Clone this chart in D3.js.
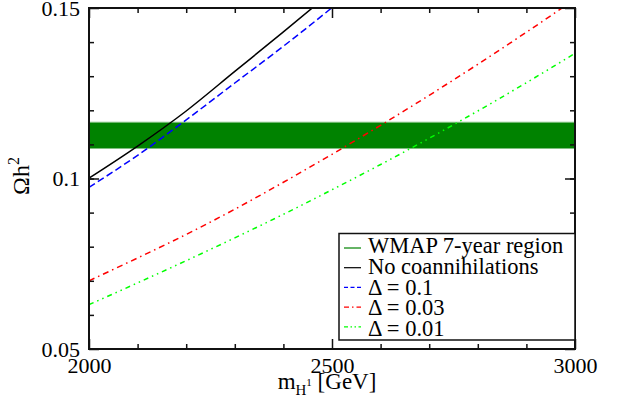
<!DOCTYPE html>
<html>
<head>
<meta charset="utf-8">
<script src="https://cdn.jsdelivr.net/npm/d3@7"></script>
<style>
  body { margin: 0; background: #fff; }
  text { font-family: "Liberation Serif", "Times New Roman", serif; }
</style>
</head>
<body>
<script>
// data
var masses = [2000, 2100, 2200, 2300, 2400, 2500, 2600, 2700, 2800, 2900, 3000];
var noCoann = [0.1001, 0.1095, 0.1198, 0.1314, 0.1430, 0.1548];
var delta01 = [0.0974, 0.1068, 0.1172, 0.1280, 0.1388, 0.1501, 0.1620];
var delta003 = [0.0700, 0.0767, 0.0836, 0.0910, 0.0989, 0.1071, 0.1156, 0.1244, 0.1335, 0.1429, 0.1526];
var delta001 = [0.0630, 0.0694, 0.0759, 0.0826, 0.0895, 0.0967, 0.1041, 0.1118, 0.1198, 0.1281, 0.1367];
var wmapBand = [0.1088, 0.1165];
var xMajor = [2000, 2500, 3000];
var yMajor = [0.05, 0.1, 0.15];
var yMajorLabels = ["0.05", "0.1", "0.15"];
var legendLabels = ["WMAP 7-year region", "No coannihilations", "\u0394 = 0.1", "\u0394 = 0.03", "\u0394 = 0.01"];

var width = 617, height = 410;
// plot box ("top" is taken by window, so pl/pr/pt/pb)
var pl = 89, pr = 575, pt = 8, pb = 349;

var svg = d3.select("body").append("svg")
  .attr("width", width)
  .attr("height", height);

svg.append("rect").attr("width", width).attr("height", height).attr("fill", "#fff");

var x = d3.scaleLinear().domain([2000, 3000]).range([pl, pr]);
var y = d3.scaleLinear().domain([0.05, 0.15]).range([pb, pt]);

svg.append("clipPath").attr("id", "plot")
  .append("rect")
  .attr("x", pl).attr("y", pt)
  .attr("width", pr - pl).attr("height", pb - pt);

// WMAP band
svg.append("rect")
  .attr("x", pl)
  .attr("y", y(wmapBand[1]))
  .attr("width", pr - pl)
  .attr("height", y(wmapBand[0]) - y(wmapBand[1]))
  .attr("fill", "#008200")
  .attr("stroke", "#80c080")
  .attr("stroke-width", 1);

// curves
var series = [
  {vals: noCoann, color: "#000", dash: null},
  {vals: delta01, color: "#0000ff", dash: "7,3.5"},
  {vals: delta003, color: "#ff0000", dash: "6,4,1.5,4"},
  {vals: delta001, color: "#00ff00", dash: "5,4,1.5,4,1.5,4"}
];

var line = d3.line()
  .x(function(d) { return x(d[0]); })
  .y(function(d) { return y(d[1]); })
  .curve(d3.curveMonotoneX);

svg.append("g").attr("clip-path", "url(#plot)")
  .selectAll("path")
  .data(series)
  .enter()
  .append("path")
  .attr("d", function(s) {
    return line(s.vals.map(function(v, i) { return [masses[i], v]; }));
  })
  .attr("fill", "none")
  .attr("stroke", function(s) { return s.color; })
  .attr("stroke-width", 1.5)
  .attr("stroke-dasharray", function(s) { return s.dash; });

// axes: minor ticks every 100 GeV / 0.01, major with labels
var xMinor = d3.range(2100, 3000, 100).filter(function(v) { return xMajor.indexOf(v) < 0; });
var yMinor = d3.range(0.06, 0.145, 0.01);

function styleAxis(g) {
  g.selectAll("path").remove();
  g.selectAll("line").attr("stroke", "#111").attr("stroke-width", 1.5);
  g.selectAll("text")
    .attr("fill", "#000")
    .style("font-family", "'Liberation Serif', serif")
    .style("font-size", "22px");
}

svg.append("g").attr("transform", "translate(0," + pb + ")")
  .call(d3.axisBottom(x).tickValues(xMinor).tickSize(-5).tickFormat(""))
  .call(styleAxis);
svg.append("g").attr("transform", "translate(0," + pb + ")")
  .call(d3.axisBottom(x).tickValues(xMajor).tickSize(-10).tickPadding(8).tickFormat(d3.format("d")))
  .call(styleAxis);
svg.append("g").attr("transform", "translate(0," + pt + ")")
  .call(d3.axisTop(x).tickValues(xMinor).tickSize(-5).tickFormat(""))
  .call(styleAxis);
svg.append("g").attr("transform", "translate(0," + pt + ")")
  .call(d3.axisTop(x).tickValues(xMajor).tickSize(-10).tickFormat(""))
  .call(styleAxis);

svg.append("g").attr("transform", "translate(" + pl + ",0)")
  .call(d3.axisLeft(y).tickValues(yMinor).tickSize(-5).tickFormat(""))
  .call(styleAxis);
svg.append("g").attr("transform", "translate(" + pl + ",0)")
  .call(d3.axisLeft(y).tickValues(yMajor).tickSize(-10).tickPadding(9)
    .tickFormat(function(d, i) { return yMajorLabels[i]; }))
  .call(styleAxis);
svg.append("g").attr("transform", "translate(" + pr + ",0)")
  .call(d3.axisRight(y).tickValues(yMinor).tickSize(-5).tickFormat(""))
  .call(styleAxis);
svg.append("g").attr("transform", "translate(" + pr + ",0)")
  .call(d3.axisRight(y).tickValues(yMajor).tickSize(-10).tickFormat(""))
  .call(styleAxis);

// frame
svg.append("rect")
  .attr("x", pl).attr("y", pt)
  .attr("width", pr - pl).attr("height", pb - pt)
  .attr("fill", "none")
  .attr("stroke", "#111")
  .attr("stroke-width", 2);

// axis titles
var xt = svg.append("text")
  .attr("x", (pl + pr) / 2 - 5)
  .attr("y", 389)
  .attr("text-anchor", "middle")
  .style("font-size", "23px");
xt.append("tspan").text("m");
xt.append("tspan").attr("dy", 6).style("font-size", "15px").text("H");
xt.append("tspan").attr("dy", -9).style("font-size", "11px").text("1");
xt.append("tspan").attr("dy", 3).text(" [GeV]");

var yt = svg.append("text")
  .attr("transform", "translate(29,176) rotate(-90)")
  .attr("text-anchor", "middle")
  .style("font-size", "24px");
yt.append("tspan").text("\u03a9h");
yt.append("tspan").attr("dy", -10).style("font-size", "16px").text("2");

// legend
var legendItems = [
  {color: "#008200", dash: null},
  {color: "#000", dash: null},
  {color: "#0000ff", dash: "4,2.5"},
  {color: "#ff0000", dash: "5,3,1.5,3"},
  {color: "#00ff00", dash: "4,2.5,1.5,2.5,1.5,2.5"}
];

var legend = svg.append("g");
legend.append("rect")
  .attr("x", 339).attr("y", 233.5)
  .attr("width", pr - 339).attr("height", 106.5)
  .attr("fill", "#fff")
  .attr("stroke", "#111")
  .attr("stroke-width", 1.5);

var rows = legend.selectAll("g.row")
  .data(legendLabels)
  .enter()
  .append("g")
  .attr("class", "row");

rows.append("line")
  .attr("x1", 344).attr("x2", 361)
  .attr("y1", function(d, i) { return 248 + i * 19.7; })
  .attr("y2", function(d, i) { return 248 + i * 19.7; })
  .attr("stroke", function(d, i) { return legendItems[i].color; })
  .attr("stroke-width", 1.2)
  .attr("stroke-dasharray", function(d, i) { return legendItems[i].dash; });

rows.append("text")
  .attr("x", 368)
  .attr("y", function(d, i) { return 253 + i * 20.8; })
  .style("font-size", "22.5px")
  .text(function(d) { return d; });
</script>
</body>
</html>
